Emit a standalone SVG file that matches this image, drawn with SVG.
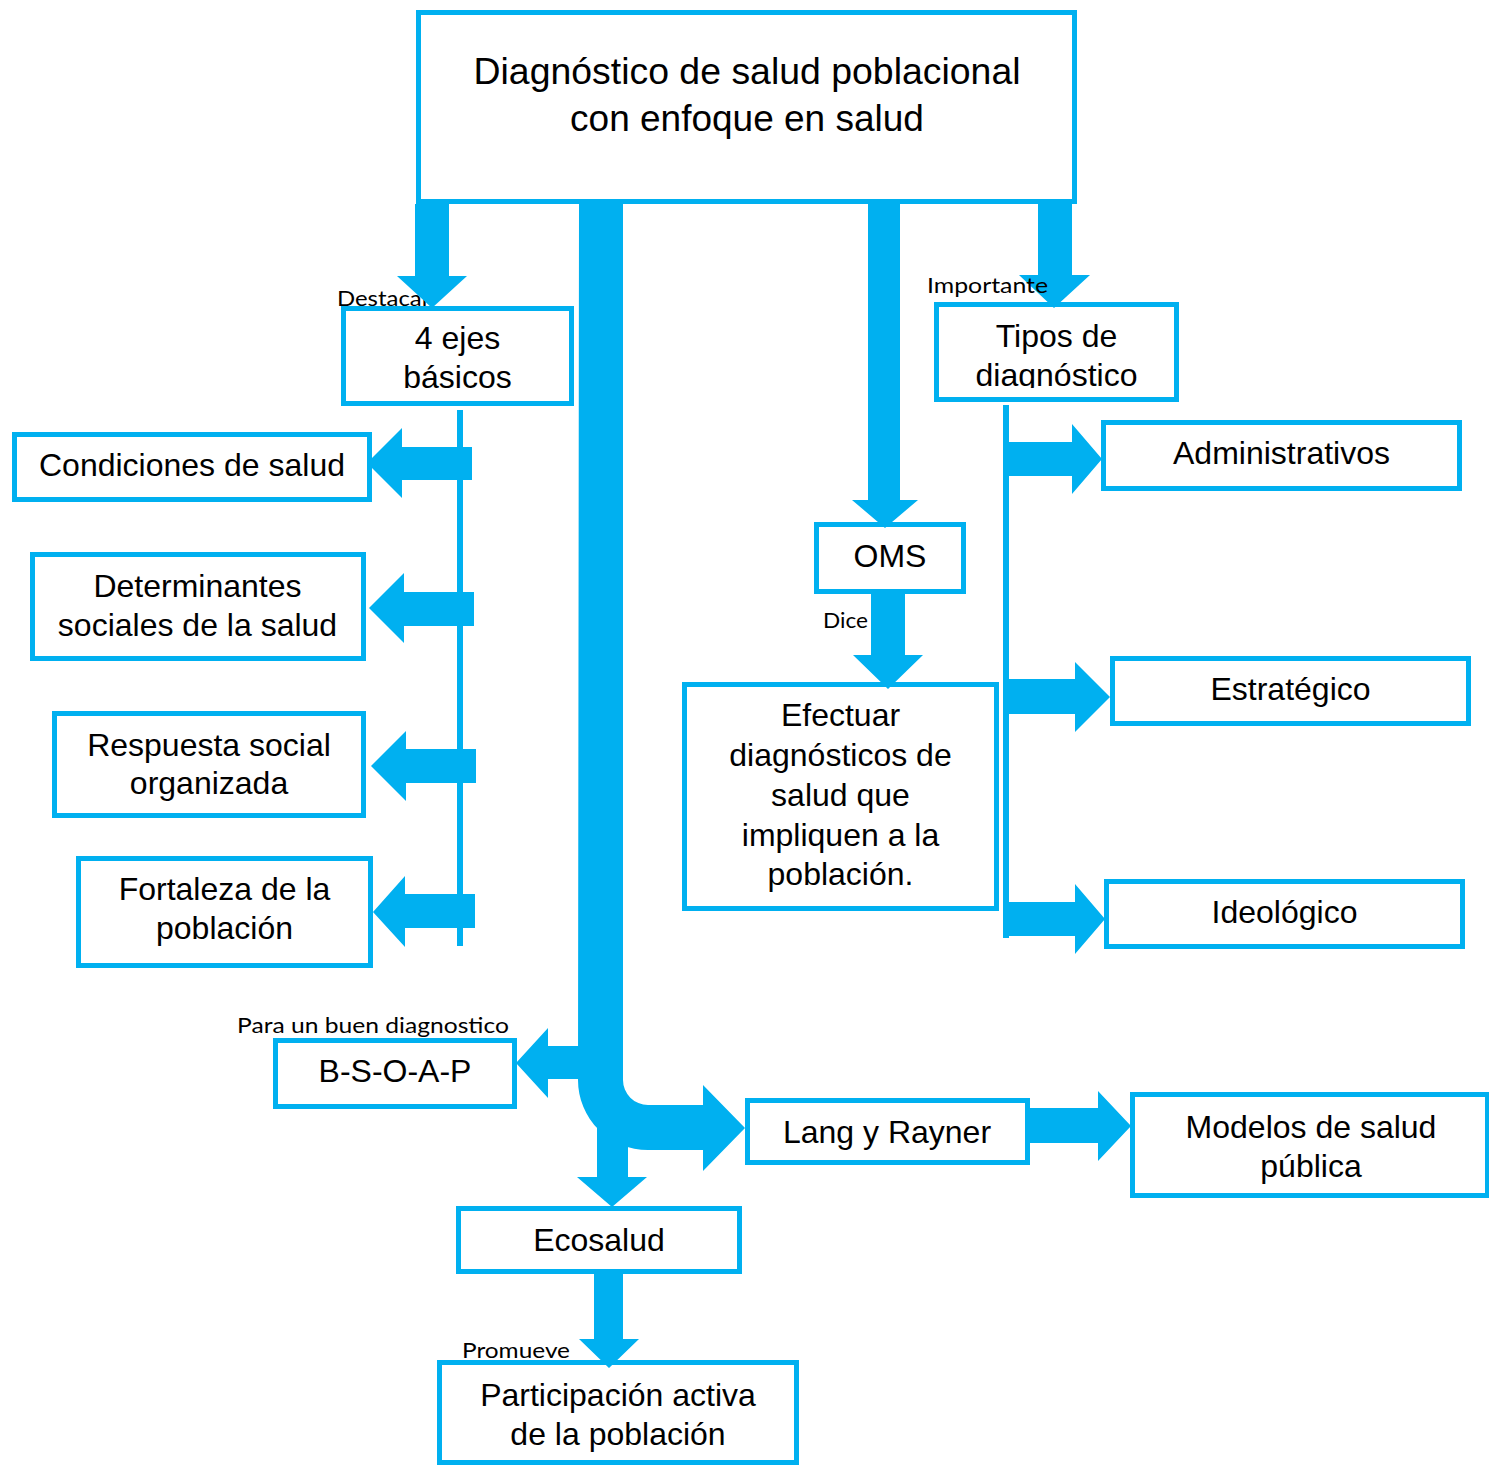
<svg xmlns="http://www.w3.org/2000/svg" width="1489" height="1466" viewBox="0 0 1489 1466">
  <style>
    .box { fill: #FFFFFF; stroke: #00B0F0; stroke-width: 5; }
    .t { font-family: "Liberation Sans", Arial, sans-serif; font-size: 32px; fill: #000000; text-anchor: middle; }
    .title { font-family: "Liberation Sans", Arial, sans-serif; font-size: 37px; fill: #000000; text-anchor: middle; }
    .lbl { font-family: Lato, "Open Sans", sans-serif; font-size: 21px; fill: #000000; }
    .arr { fill: #00B0F0; stroke: none; }
    .line { stroke: #00B0F0; stroke-width: 6; fill: none; }
  </style>
  <defs>
    <clipPath id="clipTipos">
      <rect x="934" y="300" width="246" height="88"/>
    </clipPath>
  </defs>
  <rect width="1489" height="1466" fill="#FFFFFF"/>

  <g id="nodes">
    <g id="n-titulo">
      <rect class="box" x="418.5" y="12.5" width="656" height="189"/>
      <text class="title" x="747" y="84" textLength="547" lengthAdjust="spacingAndGlyphs">Diagnóstico de salud poblacional</text>
      <text class="title" x="747" y="131">con enfoque en salud</text>
    </g>
    <g id="n-ejes">
      <rect class="box" x="343.5" y="308.5" width="228" height="95"/>
      <text class="t" x="457.5" y="349">4 ejes</text>
      <text class="t" x="457.5" y="388">básicos</text>
    </g>
    <g id="n-tipos">
      <rect class="box" x="936.5" y="304.5" width="240" height="95"/>
      <g clip-path="url(#clipTipos)">
        <text class="t" x="1056.5" y="347">Tipos de</text>
        <text class="t" x="1056.5" y="386">diagnóstico</text>
      </g>
    </g>
    <g id="n-condiciones">
      <rect class="box" x="14.5" y="434.5" width="355" height="65"/>
      <text class="t" x="192" y="476">Condiciones de salud</text>
    </g>
    <g id="n-determinantes">
      <rect class="box" x="32.5" y="554.5" width="331" height="104"/>
      <text class="t" x="197.5" y="597">Determinantes</text>
      <text class="t" x="197.5" y="636">sociales de la salud</text>
    </g>
    <g id="n-respuesta">
      <rect class="box" x="54.5" y="713.5" width="309" height="102"/>
      <text class="t" x="209" y="756">Respuesta social</text>
      <text class="t" x="209" y="794">organizada</text>
    </g>
    <g id="n-fortaleza">
      <rect class="box" x="78.5" y="858.5" width="292" height="107"/>
      <text class="t" x="224.5" y="900">Fortaleza de la</text>
      <text class="t" x="224.5" y="939">población</text>
    </g>
    <g id="n-administrativos">
      <rect class="box" x="1103.5" y="422.5" width="356" height="66"/>
      <text class="t" x="1281.5" y="464">Administrativos</text>
    </g>
    <g id="n-estrategico">
      <rect class="box" x="1112.5" y="658.5" width="356" height="65"/>
      <text class="t" x="1290.5" y="700">Estratégico</text>
    </g>
    <g id="n-ideologico">
      <rect class="box" x="1106.5" y="881.5" width="356" height="65"/>
      <text class="t" x="1284.5" y="923">Ideológico</text>
    </g>
    <g id="n-oms">
      <rect class="box" x="816.5" y="524.5" width="147" height="67"/>
      <text class="t" x="890" y="567">OMS</text>
    </g>
    <g id="n-efectuar">
      <rect class="box" x="684.5" y="684.5" width="312" height="224"/>
      <text class="t" x="840.5" y="726">Efectuar</text>
      <text class="t" x="840.5" y="766">diagnósticos de</text>
      <text class="t" x="840.5" y="806">salud que</text>
      <text class="t" x="840.5" y="846">impliquen a la</text>
      <text class="t" x="840.5" y="885">población.</text>
    </g>
    <g id="n-bsoap">
      <rect class="box" x="275.5" y="1040.5" width="239" height="66"/>
      <text class="t" x="395" y="1082">B-S-O-A-P</text>
    </g>
    <g id="n-lang">
      <rect class="box" x="747.5" y="1100.5" width="280" height="62"/>
      <text class="t" x="887" y="1143">Lang y Rayner</text>
    </g>
    <g id="n-modelos">
      <rect class="box" x="1132.5" y="1094.5" width="355" height="101"/>
      <text class="t" x="1311" y="1138">Modelos de salud</text>
      <text class="t" x="1311" y="1177">pública</text>
    </g>
    <g id="n-ecosalud">
      <rect class="box" x="458.5" y="1208.5" width="281" height="63"/>
      <text class="t" x="599" y="1251">Ecosalud</text>
    </g>
    <g id="n-participacion">
      <rect class="box" x="439.5" y="1362.5" width="357" height="100"/>
      <text class="t" x="618" y="1406">Participación activa</text>
      <text class="t" x="618" y="1445">de la población</text>
    </g>
  </g>

  <g id="connectors">
    <text class="lbl" x="337" y="306" textLength="98" lengthAdjust="spacingAndGlyphs">Destacan</text>
    <text class="lbl" x="823" y="628" textLength="45" lengthAdjust="spacingAndGlyphs">Dice</text>
    <text class="lbl" x="237" y="1033" textLength="272" lengthAdjust="spacingAndGlyphs">Para un buen diagnostico</text>
    <text class="lbl" x="462" y="1358" textLength="108" lengthAdjust="spacingAndGlyphs">Promueve</text>
    <line class="line" x1="460" y1="410" x2="460" y2="946"/>
    <line class="line" x1="1006" y1="405" x2="1006" y2="938"/>
    <polygon class="arr" points="415,204 449,204 449,276 467,276 432,308 397,276 415,276"/>
    <polygon class="arr" points="1038,204 1072,204 1072,275 1090,275 1054,308 1019,275 1038,275"/>
    <polygon class="arr" points="868,204 900,204 900,500 918,500 885,528 852,500 868,500"/>
    <path class="arr" d="M 579 204 L 623 204 L 623 1080 A 25 25 0 0 0 648 1105 L 703 1105 L 703 1085 L 745 1128 L 703 1171 L 703 1150 L 648 1150 A 70 70 0 0 1 578 1080 Z"/>
    <polygon class="arr" points="597,1110 628,1110 628,1177 647,1177 612,1207 577,1177 597,1177"/>
    <polygon class="arr" points="582,1046 548,1046 548,1028 516,1063 548,1098 548,1079 582,1079"/>
    <polygon class="arr" points="472,447 402,447 402,428 367,463 402,498 402,480 472,480"/>
    <polygon class="arr" points="474,592 404,592 404,573 369,608 404,643 404,626 474,626"/>
    <polygon class="arr" points="476,749 406,749 406,731 371,766 406,801 406,783 476,783"/>
    <polygon class="arr" points="475,894 405,894 405,876 373,912 405,947 405,928 475,928"/>
    <polygon class="arr" points="1003,442 1072,442 1072,424 1102,459 1072,494 1072,476 1003,476"/>
    <polygon class="arr" points="1006,679 1075,679 1075,662 1110,697 1075,732 1075,714 1006,714"/>
    <polygon class="arr" points="1003,902 1075,902 1075,884 1105,919 1075,954 1075,936 1003,936"/>
    <polygon class="arr" points="871,590 905,590 905,655 923,655 888,689 853,655 871,655"/>
    <polygon class="arr" points="1028,1108 1098,1108 1098,1091 1131,1126 1098,1161 1098,1143 1028,1143"/>
    <polygon class="arr" points="594,1272 623,1272 623,1339 639,1339 609,1368 579,1339 594,1339"/>
    <text class="lbl" x="927" y="293" textLength="121" lengthAdjust="spacingAndGlyphs">Importante</text>
  </g>
</svg>
